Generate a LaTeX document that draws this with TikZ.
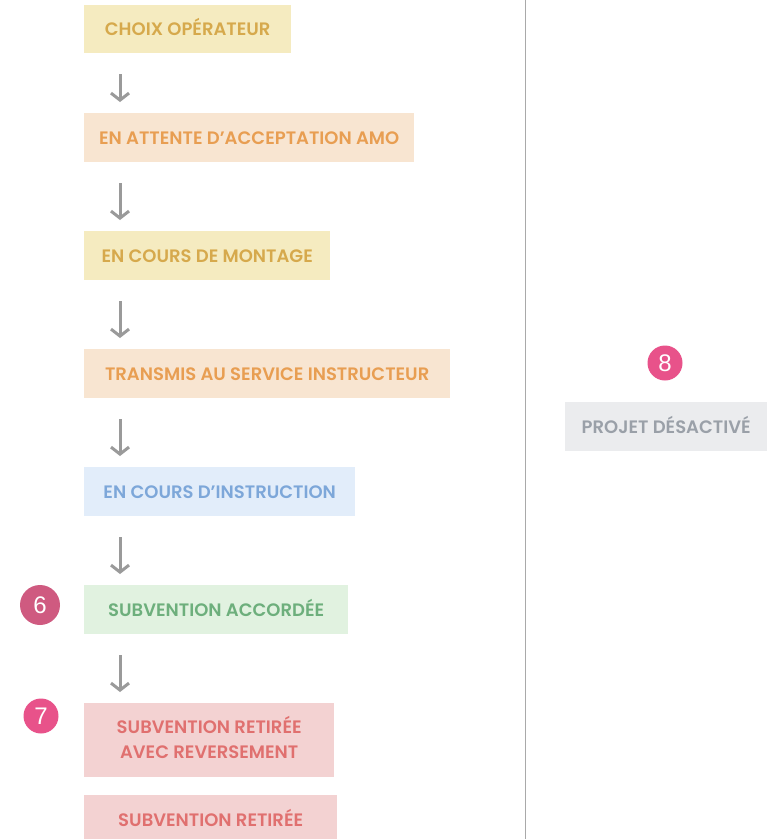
\documentclass[tikz,border=0pt]{standalone}
\usepackage{fontspec}
\setmainfont{Poppins}[BoldFont={Poppins SemiBold}]
\newfontfamily\digitfont{Liberation Sans}
\usetikzlibrary{arrows.meta,calc}
\definecolor{ylwfill}{HTML}{F5EBC0}
\definecolor{ylwtext}{HTML}{D6A94C}
\definecolor{orgfill}{HTML}{F8E5D1}
\definecolor{orgtext}{HTML}{E89E52}
\definecolor{blufill}{HTML}{E2EDFA}
\definecolor{blutext}{HTML}{7DA7D9}
\definecolor{grnfill}{HTML}{E1F2E0}
\definecolor{grntext}{HTML}{6DAF7C}
\definecolor{redfill}{HTML}{F3D2D2}
\definecolor{redtext}{HTML}{E0706F}
\definecolor{gryfill}{HTML}{EBECEE}
\definecolor{grytext}{HTML}{9AA0A8}
\definecolor{arrowgray}{HTML}{9A9A9A}
\definecolor{badgepink}{HTML}{E8528A}
\definecolor{badgedark}{HTML}{CF5A80}
\tikzset{
  state/.style={anchor=north west, inner sep=0pt, align=center,
    font=\fontsize{18}{25}\selectfont\bfseries},
  oneline/.style={text height=12.6pt, text depth=0pt},
  ylw/.style={state, fill=ylwfill, text=ylwtext},
  org/.style={state, fill=orgfill, text=orgtext},
  blu/.style={state, fill=blufill, text=blutext},
  grn/.style={state, fill=grnfill, text=grntext},
  red/.style={state, fill=redfill, text=redtext},
  gry/.style={state, fill=gryfill, text=grytext},
  flow/.style={draw=arrowgray, line width=3pt,
    -{Straight Barb[length=7pt,width=18pt,line width=3pt]}},
  badge/.style={circle, fill=badgepink, text=white, inner sep=0pt,
    minimum size=35pt, font=\digitfont\fontsize{24}{24}\selectfont},
}
\begin{document}
\begin{tikzpicture}[x=1pt,y=-1pt]
\useasboundingbox (0,0) rectangle (782,839);
\clip (0,0) rectangle (782,839);
\fill[white] (0,0) rectangle (782,839);

% status column
\node[ylw, oneline, minimum width=207pt, minimum height=48pt] (s1) at (84,5) {CHOIX OPÉRATEUR};
\node[org, oneline, minimum width=330pt, minimum height=49pt] (s2) at (84,113) {EN ATTENTE D’ACCEPTATION AMO};
\node[ylw, oneline, minimum width=246pt, minimum height=49pt] (s3) at (84,231) {EN COURS DE MONTAGE};
\node[org, oneline, minimum width=366pt, minimum height=49pt] (s4) at (84,349) {TRANSMIS AU SERVICE INSTRUCTEUR};
\node[blu, oneline, minimum width=271pt, minimum height=49pt] (s5) at (84,467) {EN COURS D’INSTRUCTION};
\node[grn, oneline, minimum width=264pt, minimum height=49pt] (s6) at (84,585) {SUBVENTION ACCORDÉE};
\node[red, text depth=5pt, minimum width=250pt, minimum height=74pt] (s7) at (84,703) {SUBVENTION RETIRÉE\\AVEC REVERSEMENT};
\node[red, oneline, minimum width=253pt, minimum height=49pt] (s8) at (84,795) {SUBVENTION RETIRÉE};

% transitions
\foreach \a/\b in {s1/s2,s2/s3,s3/s4,s4/s5,s5/s6,s6/s7}
  \draw[flow] ($(\a.south west)+(36,21)$) -- ($(\b.north west)+(36,-11)$);

% separator
\coordinate (septop) at (525,0);
\coordinate (sepbot) at (525,839);
\draw[color=arrowgray!85, line width=1pt] (septop) -- (sepbot);

% deactivated project
\node[gry, oneline, minimum width=202pt, minimum height=49pt] (s9) at (565,402) {PROJET DÉSACTIVÉ};

% step badges
\node[badge, fill=badgedark, minimum size=40pt] (b6) at (40,605) {6};
\node[badge] (b7) at (41,716) {7};
\node[badge] (b8) at (665,363) {8};
\end{tikzpicture}
\end{document}
